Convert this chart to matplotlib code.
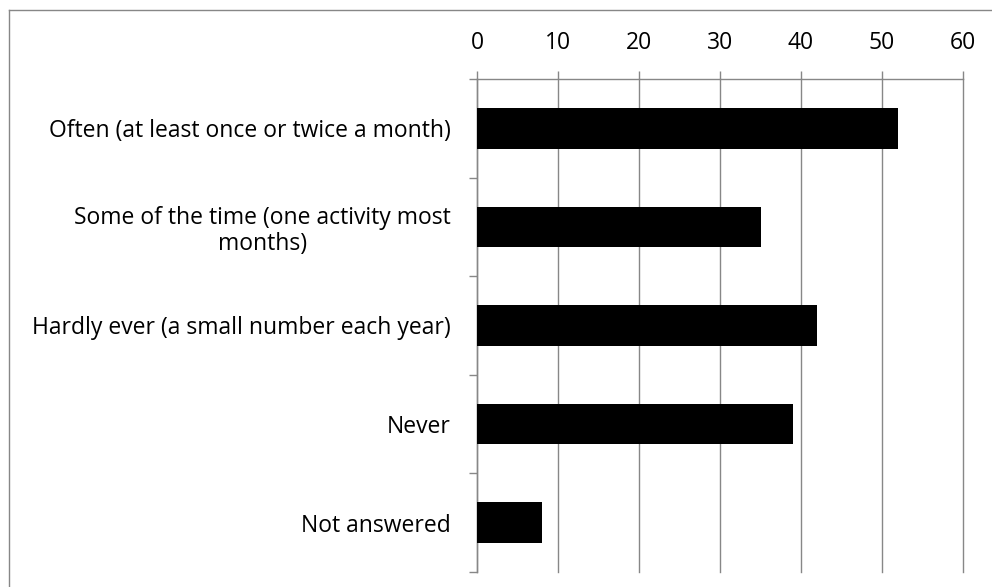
import numpy as np
import matplotlib.pyplot as plt
from matplotlib.lines import Line2D

plt.rcParams['font.family'] = ['Open Sans', 'DejaVu Sans']

# survey answers and counts (top to bottom)
categories = ['Often (at least once or twice a month)',
              'Some of the time (one activity most\nmonths)',
              'Hardly ever (a small number each year)',
              'Never',
              'Not answered']
counts = [52, 35, 42, 39, 8]
xticks = [0, 10, 20, 30, 40, 50, 60]

grey = '#878787'
fs = 16.5

fig = plt.figure(figsize=(9.92, 5.87), dpi=100)
ax = fig.add_axes([477/992, 1 - 572/587, (963 - 477)/992, (572 - 79)/587])

y = np.arange(len(categories))
ax.barh(y, counts, height=0.41, color='black', zorder=3)

ax.set_xlim(0, 60)
ax.set_ylim(len(categories) - 0.5, -0.5)
ax.set_xticks(xticks)
ax.xaxis.tick_top()
ax.tick_params(axis='x', which='major', direction='out', length=6, width=1,
               color=grey, pad=11, labelsize=fs)
ax.grid(axis='x', color=grey, linewidth=1, zorder=0)
for gl in ax.get_xgridlines():
    gl.set_clip_on(False)

ax.set_yticks(y)
ax.set_yticklabels(categories, ha='right', multialignment='center', linespacing=1.1)
ax.set_yticks(np.arange(len(categories) + 1) - 0.5, minor=True)
ax.tick_params(axis='y', which='major', length=0, pad=19, labelsize=fs)
ax.tick_params(axis='y', which='minor', direction='out', length=5.5, width=1, color=grey)

for s in ['right', 'bottom']:
    ax.spines[s].set_visible(False)
for s in ['left', 'top']:
    ax.spines[s].set_color(grey)
    ax.spines[s].set_linewidth(1)

# outer chart border (only top and left visible in the crop)
fig.add_artist(Line2D([9/992, 1], [1 - 10/587, 1 - 10/587], color=grey, lw=1,
                      transform=fig.transFigure))
fig.add_artist(Line2D([9/992, 9/992], [0, 1 - 10/587], color=grey, lw=1,
                      transform=fig.transFigure))

fig.savefig('out.png', dpi=100)
